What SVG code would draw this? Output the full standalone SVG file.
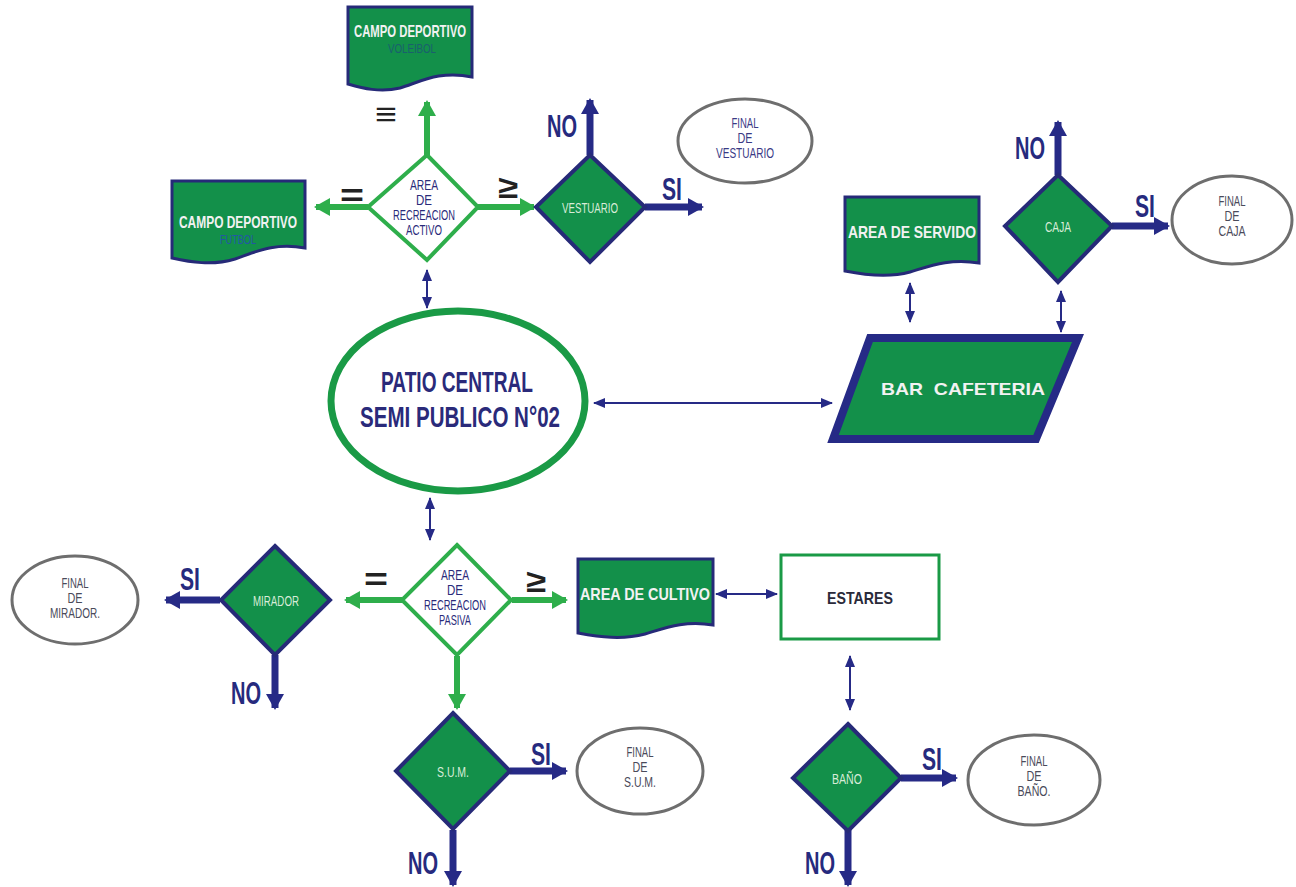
<svg xmlns="http://www.w3.org/2000/svg" width="1296" height="887" viewBox="0 0 1296 887">
<defs>
<style>
text{font-family:"Liberation Sans",Arial,sans-serif;text-anchor:middle}
.doc{fill:#13904a;stroke:#262a78;stroke-width:3}
.dg{fill:#13904a;stroke:#262a78;stroke-width:4}
.dw{fill:#fff;stroke:#2eae4b;stroke-width:4}
.fin{fill:#fff;stroke:#6e6e6e;stroke-width:3}
.ft{font-size:14px;fill:#4a4a5a}
.dl{font-size:14px;fill:#d8ecd8}
.dt{font-size:14px;fill:#2a2a7a}
.wt{font-size:17px;font-weight:bold;fill:#f2f2f2}
.yn{font-size:32px;font-weight:bold;fill:#262a7e}
.sym{font-size:32px;font-weight:bold;fill:#222}
.nv{stroke:#262a86;stroke-width:7;fill:none}
.gr{stroke:#2eae4b;stroke-width:6;fill:none}
.th{stroke:#262a86;stroke-width:2;fill:none}
</style>
<marker id="hn" markerUnits="userSpaceOnUse" markerWidth="16" markerHeight="18" refX="14" refY="9" orient="auto"><path d="M0,0 L16,9 L0,18 Z" fill="#262a86"/></marker>
<marker id="hg" markerUnits="userSpaceOnUse" markerWidth="16" markerHeight="18" refX="14" refY="9" orient="auto"><path d="M0,0 L16,9 L0,18 Z" fill="#2eae4b"/></marker>
<marker id="ht" markerUnits="userSpaceOnUse" markerWidth="12" markerHeight="10" refX="11" refY="5" orient="auto-start-reverse"><path d="M0,0 L12,5 L0,10 Z" fill="#262a86"/></marker>
</defs>
<rect width="1296" height="887" fill="#fff"/>

<g id="connectors">
  <line class="gr" x1="427" y1="155" x2="427" y2="102" marker-end="url(#hg)"/>
  <line class="gr" x1="368" y1="207" x2="316" y2="207" marker-end="url(#hg)"/>
  <line class="gr" x1="478" y1="207" x2="534" y2="207" marker-end="url(#hg)"/>
  <line class="nv" x1="590" y1="155" x2="590" y2="100" marker-end="url(#hn)"/>
  <line class="nv" x1="645" y1="207" x2="702" y2="207" marker-end="url(#hn)"/>
  <line class="th" x1="427" y1="270" x2="427" y2="308" marker-start="url(#ht)" marker-end="url(#ht)"/>
  <line class="th" x1="594" y1="403" x2="832" y2="403" marker-start="url(#ht)" marker-end="url(#ht)"/>
  <line class="th" x1="910" y1="283" x2="910" y2="322" marker-start="url(#ht)" marker-end="url(#ht)"/>
  <line class="th" x1="1061" y1="291" x2="1061" y2="332" marker-start="url(#ht)" marker-end="url(#ht)"/>
  <line class="nv" x1="1058" y1="175" x2="1058" y2="122" marker-end="url(#hn)"/>
  <line class="nv" x1="1112" y1="226" x2="1168" y2="226" marker-end="url(#hn)"/>
  <line class="th" x1="430" y1="498" x2="430" y2="540" marker-start="url(#ht)" marker-end="url(#ht)"/>
  <line class="gr" x1="402" y1="600" x2="346" y2="600" marker-end="url(#hg)"/>
  <line class="gr" x1="512" y1="600" x2="566" y2="600" marker-end="url(#hg)"/>
  <line class="gr" x1="457" y1="656" x2="457" y2="708" marker-end="url(#hg)"/>
  <line class="nv" x1="220" y1="600" x2="166" y2="600" marker-end="url(#hn)"/>
  <line class="nv" x1="275" y1="655" x2="275" y2="708" marker-end="url(#hn)"/>
  <line class="th" x1="716" y1="594" x2="777" y2="594" marker-start="url(#ht)" marker-end="url(#ht)"/>
  <line class="th" x1="850" y1="656" x2="850" y2="710" marker-start="url(#ht)" marker-end="url(#ht)"/>
  <line class="nv" x1="510" y1="771" x2="566" y2="771" marker-end="url(#hn)"/>
  <line class="nv" x1="453" y1="830" x2="453" y2="885" marker-end="url(#hn)"/>
  <line class="nv" x1="901" y1="778" x2="956" y2="778" marker-end="url(#hn)"/>
  <line class="nv" x1="848" y1="830" x2="848" y2="885" marker-end="url(#hn)"/>
</g>

<g id="labels">
  <text class="sym" x="386" y="125" textLength="22" lengthAdjust="spacingAndGlyphs">≡</text>
  <text class="sym" x="352" y="206" textLength="24" lengthAdjust="spacingAndGlyphs">=</text>
  <text class="sym" x="508" y="198" textLength="20" lengthAdjust="spacingAndGlyphs">≥</text>
  <text class="yn" x="562" y="137" textLength="30" lengthAdjust="spacingAndGlyphs">NO</text>
  <text class="yn" x="672" y="200" textLength="20" lengthAdjust="spacingAndGlyphs">SI</text>
  <text class="yn" x="1030" y="159" textLength="30" lengthAdjust="spacingAndGlyphs">NO</text>
  <text class="yn" x="1145" y="217" textLength="20" lengthAdjust="spacingAndGlyphs">SI</text>
  <text class="sym" x="376" y="590" textLength="24" lengthAdjust="spacingAndGlyphs">=</text>
  <text class="sym" x="536" y="592" textLength="20" lengthAdjust="spacingAndGlyphs">≥</text>
  <text class="yn" x="190" y="590" textLength="20" lengthAdjust="spacingAndGlyphs">SI</text>
  <text class="yn" x="246" y="704" textLength="30" lengthAdjust="spacingAndGlyphs">NO</text>
  <text class="yn" x="541" y="765" textLength="20" lengthAdjust="spacingAndGlyphs">SI</text>
  <text class="yn" x="423" y="874" textLength="30" lengthAdjust="spacingAndGlyphs">NO</text>
  <text class="yn" x="932" y="770" textLength="20" lengthAdjust="spacingAndGlyphs">SI</text>
  <text class="yn" x="820" y="874" textLength="30" lengthAdjust="spacingAndGlyphs">NO</text>
</g>

<g id="voleibol">
  <path class="doc" d="M348,7 H472 V77 C440,70 420,82 400,88 C380,93 362,88 348,84 Z"/>
  <text class="wt" x="410" y="37" textLength="112" lengthAdjust="spacingAndGlyphs">CAMPO DEPORTIVO</text>
  <text x="412" y="53" font-size="13" fill="#1a5f6e" textLength="48" lengthAdjust="spacingAndGlyphs">VOLEIBOL</text>
</g>

<g id="futbol">
  <path class="doc" d="M172,181 H305 V248 C275,242 255,252 235,259 C212,266 190,262 172,258 Z"/>
  <text class="wt" x="238" y="228" textLength="118" lengthAdjust="spacingAndGlyphs">CAMPO DEPORTIVO</text>
  <text x="238" y="244" font-size="13" fill="#2355a8" textLength="36" lengthAdjust="spacingAndGlyphs">FUTBOL</text>
</g>

<g id="activo">
  <polygon class="dw" points="427,155 478,207 427,260 368,207"/>
  <text class="dt" x="424" y="190" textLength="28" lengthAdjust="spacingAndGlyphs">AREA</text>
  <text class="dt" x="424" y="205" textLength="16" lengthAdjust="spacingAndGlyphs">DE</text>
  <text class="dt" x="424" y="220" textLength="62" lengthAdjust="spacingAndGlyphs">RECREACION</text>
  <text class="dt" x="424" y="235" textLength="36" lengthAdjust="spacingAndGlyphs">ACTIVO</text>
</g>

<g id="vestuario">
  <polygon class="dg" points="590,155 645,207 590,262 536,207"/>
  <text class="dl" x="590" y="213" textLength="56" lengthAdjust="spacingAndGlyphs">VESTUARIO</text>
</g>

<g id="final-vestuario">
  <ellipse class="fin" cx="745" cy="141" rx="67" ry="42"/>
  <text class="ft" x="745" y="128" style="fill:#3a3a85" textLength="27" lengthAdjust="spacingAndGlyphs">FINAL</text>
  <text class="ft" x="745" y="143" style="fill:#3a3a85" textLength="15" lengthAdjust="spacingAndGlyphs">DE</text>
  <text class="ft" x="745" y="158" style="fill:#3a3a85" textLength="58" lengthAdjust="spacingAndGlyphs">VESTUARIO</text>
</g>

<g id="servido">
  <path class="doc" d="M845,197 H979 V263 C950,258 930,266 910,272 C888,278 865,275 845,271 Z"/>
  <text class="wt" x="912" y="238" textLength="128" lengthAdjust="spacingAndGlyphs">AREA DE SERVIDO</text>
</g>

<g id="caja">
  <polygon class="dg" points="1058,175 1112,226 1058,282 1005,226"/>
  <text class="dl" x="1058" y="232" textLength="26" lengthAdjust="spacingAndGlyphs">CAJA</text>
</g>

<g id="final-caja">
  <ellipse class="fin" cx="1232" cy="220" rx="60" ry="44"/>
  <text class="ft" x="1232" y="206" textLength="27" lengthAdjust="spacingAndGlyphs">FINAL</text>
  <text class="ft" x="1232" y="221" textLength="15" lengthAdjust="spacingAndGlyphs">DE</text>
  <text class="ft" x="1232" y="236" textLength="27" lengthAdjust="spacingAndGlyphs">CAJA</text>
</g>

<g id="patio">
  <ellipse cx="458" cy="401" rx="127" ry="90" fill="#fff" stroke="#1a9a46" stroke-width="7"/>
  <text x="457" y="392" font-size="30" font-weight="bold" fill="#2a2a7a" textLength="152" lengthAdjust="spacingAndGlyphs">PATIO CENTRAL</text>
  <text x="460" y="427" font-size="30" font-weight="bold" fill="#2a2a7a" textLength="200" lengthAdjust="spacingAndGlyphs">SEMI PUBLICO N°02</text>
</g>

<g id="bar">
  <polygon points="870,338 1078,338 1036,439 833,439" fill="#13904a" stroke="#262a86" stroke-width="8"/>
  <text class="wt" x="963" y="395" font-size="22" textLength="164" lengthAdjust="spacingAndGlyphs" xml:space="preserve">BAR  CAFETERIA</text>
</g>

<g id="pasiva">
  <polygon class="dw" points="457,545 511,600 457,655 402,600"/>
  <text class="dt" x="455" y="580" textLength="28" lengthAdjust="spacingAndGlyphs">AREA</text>
  <text class="dt" x="455" y="595" textLength="16" lengthAdjust="spacingAndGlyphs">DE</text>
  <text class="dt" x="455" y="610" textLength="62" lengthAdjust="spacingAndGlyphs">RECREACION</text>
  <text class="dt" x="455" y="625" textLength="32" lengthAdjust="spacingAndGlyphs">PASIVA</text>
</g>

<g id="mirador">
  <polygon class="dg" points="275,546 330,600 275,655 221,600"/>
  <text class="dl" x="276" y="606" textLength="46" lengthAdjust="spacingAndGlyphs">MIRADOR</text>
</g>

<g id="final-mirador">
  <ellipse class="fin" cx="75" cy="600" rx="63" ry="44"/>
  <text class="ft" x="75" y="588" textLength="27" lengthAdjust="spacingAndGlyphs">FINAL</text>
  <text class="ft" x="75" y="603" textLength="15" lengthAdjust="spacingAndGlyphs">DE</text>
  <text class="ft" x="75" y="618" textLength="50" lengthAdjust="spacingAndGlyphs">MIRADOR.</text>
</g>

<g id="cultivo">
  <path class="doc" d="M578,559 H713 V625 C685,620 665,628 645,634 C622,640 600,637 578,633 Z"/>
  <text class="wt" x="645" y="600" textLength="130" lengthAdjust="spacingAndGlyphs">AREA DE CULTIVO</text>
</g>

<g id="estares">
  <rect x="781" y="555" width="158" height="84" fill="#fff" stroke="#1a9a46" stroke-width="3"/>
  <text x="860" y="604" font-size="17" font-weight="bold" fill="#2a2a3a" textLength="66" lengthAdjust="spacingAndGlyphs">ESTARES</text>
</g>

<g id="sum">
  <polygon class="dg" points="453,713 510,771 453,829 396,771"/>
  <text class="dl" x="453" y="777" textLength="32" lengthAdjust="spacingAndGlyphs">S.U.M.</text>
</g>

<g id="final-sum">
  <ellipse class="fin" cx="640" cy="771" rx="63" ry="43"/>
  <text class="ft" x="640" y="757" textLength="27" lengthAdjust="spacingAndGlyphs">FINAL</text>
  <text class="ft" x="640" y="772" textLength="15" lengthAdjust="spacingAndGlyphs">DE</text>
  <text class="ft" x="640" y="787" textLength="32" lengthAdjust="spacingAndGlyphs">S.U.M.</text>
</g>

<g id="bano">
  <polygon class="dg" points="848,724 901,778 848,831 793,778"/>
  <text class="dl" x="847" y="784" textLength="30" lengthAdjust="spacingAndGlyphs">BAÑO</text>
</g>

<g id="final-bano">
  <ellipse class="fin" cx="1034" cy="780" rx="66" ry="45"/>
  <text class="ft" x="1034" y="766" textLength="27" lengthAdjust="spacingAndGlyphs">FINAL</text>
  <text class="ft" x="1034" y="781" textLength="15" lengthAdjust="spacingAndGlyphs">DE</text>
  <text class="ft" x="1034" y="796" textLength="33" lengthAdjust="spacingAndGlyphs">BAÑO.</text>
</g>
</svg>
